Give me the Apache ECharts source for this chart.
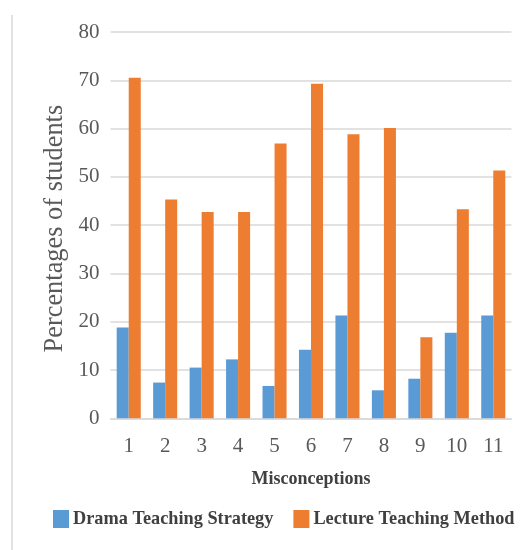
<!DOCTYPE html>
<html>
<head>
<meta charset="utf-8">
<script src="https://cdn.jsdelivr.net/npm/echarts@6/dist/echarts.min.js"></script>
<style>html,body{margin:0;padding:0;background:#fff;}#c{width:525px;height:550px;}</style>
</head>
<body>
<div id="c"></div>
<script>
const categories = ['1','2','3','4','5','6','7','8','9','10','11'];
const dramaValues = [18.8, 7.4, 10.5, 12.2, 6.7, 14.2, 21.3, 5.8, 8.2, 17.7, 21.3];
const lectureValues = [70.5, 45.3, 42.7, 42.7, 56.9, 69.3, 58.8, 60.1, 16.8, 43.3, 51.3];
const seriesNames = ['Drama Teaching Strategy', 'Lecture Teaching Method'];
const yTicks = { min: 0, max: 80, interval: 10 };

const serif = '"Liberation Serif", "DejaVu Serif", serif';
const chart = echarts.init(document.getElementById('c'), null, { renderer: 'canvas' });
chart.setOption({
  animation: false,
  backgroundColor: '#ffffff',
  grid: { left: 110.5, right: 13.5, top: 32, bottom: 131.7, containLabel: false },
  graphic: [{
    type: 'line', shape: { x1: 12, y1: 15, x2: 12, y2: 550 },
    style: { stroke: '#d9d9d9', lineWidth: 1.5 }
  }],
  legend: {
    left: 48, top: 505,
    itemWidth: 16, itemHeight: 18, itemGap: 20,
    icon: 'rect',
    textStyle: { fontFamily: serif, fontWeight: 'bold', fontSize: 18.3, color: '#404040', padding: [0, 0, 0, -1] },
    data: seriesNames
  },
  xAxis: {
    type: 'category', data: categories,
    name: 'Misconceptions', nameLocation: 'middle', nameGap: 52,
    nameTextStyle: { fontFamily: serif, fontWeight: 'bold', fontSize: 18, color: '#404040' },
    axisLine: { show: true, lineStyle: { color: '#d9d9d9', width: 1.5 } },
    axisTick: { show: false },
    axisLabel: { fontFamily: serif, fontSize: 21, color: '#595959', margin: 18 }
  },
  yAxis: {
    type: 'value', min: yTicks.min, max: yTicks.max, interval: yTicks.interval,
    name: 'Percentages of students', nameLocation: 'middle', nameGap: 40,
    nameTextStyle: { fontFamily: serif, fontSize: 26.4, color: '#595959', padding: [0, 7, 0, 0] },
    axisLine: { show: false }, axisTick: { show: false },
    axisLabel: { fontFamily: serif, fontSize: 21, color: '#595959', margin: 11 },
    splitLine: { lineStyle: { color: '#d9d9d9', width: 1.5 } }
  },
  series: [
    { name: seriesNames[0], type: 'bar', data: dramaValues, itemStyle: { color: '#5B9BD5' }, barGap: '0%', barCategoryGap: '34%' },
    { name: seriesNames[1], type: 'bar', data: lectureValues, itemStyle: { color: '#ED7D31' }, barGap: '0%', barCategoryGap: '34%' }
  ]
});
</script>
</body>
</html>
